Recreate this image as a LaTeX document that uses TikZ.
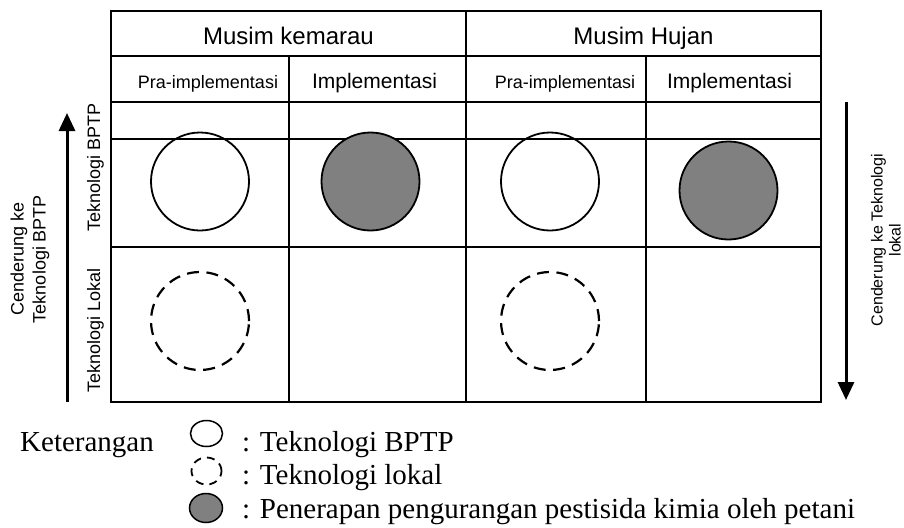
\documentclass[tikz,border=0pt]{standalone}
\usepackage{fontspec}
\setmainfont{Liberation Serif}
\setsansfont{Liberation Sans}
\usetikzlibrary{arrows.meta,shapes.geometric}

\begin{document}
\begin{tikzpicture}[x=1pt,y=-1pt,
  grid/.style={line width=2pt},
  head/.style={font=\sffamily\fontsize{24}{28}\selectfont, anchor=base},
  sub/.style={font=\sffamily\fontsize{18}{21}\selectfont, anchor=base},
  imp/.style={font=\sffamily\fontsize{21}{24}\selectfont, anchor=base},
  side/.style={font=\sffamily\fontsize{18}{22}\selectfont, rotate=90, anchor=base},
  bptp/.style={circle, draw, line width=1.8pt, minimum size=98pt, inner sep=0pt},
  lokal/.style={bptp, line width=2.2pt, dash pattern=on 12pt off 7.5pt},
  kimia/.style={bptp, fill=gray},
  key/.style={ellipse, draw, line width=1.5pt, inner sep=0pt},
  legend/.style={font=\fontsize{29}{33}\selectfont, anchor=base west, inner sep=0pt},
  trend/.style={line width=3pt, -{Triangle[width=16pt,length=18pt]}}
]
\useasboundingbox (0,0) rectangle (904,527);

\draw[grid] (111,11) rectangle (821,402);
\foreach \y in {56,102,139,247}
  \draw[grid] (111,\y) -- (821,\y);
\draw[grid] (466,11) -- (466,402) (289,56) -- (289,402) (646,56) -- (646,402);

\node[head] (kemarau) at (288.5,45) {Musim kemarau};
\node[head] (hujan) at (643.5,45) {Musim Hujan};
\node[sub] (pra-k) at (208,88) {Pra-implementasi};
\node[imp] (imp-k) at (374.5,88) {Implementasi};
\node[sub] (pra-h) at (565,88) {Pra-implementasi};
\node[imp] (imp-h) at (729.5,88) {Implementasi};

\node[side] (row-bptp) at (100,167.5) {Teknologi BPTP};
\node[side] (row-lokal) at (100,330.5) {Teknologi Lokal};

\node[bptp] (bptp-k) at (200,181.5) {};
\node[kimia] (kimia-k) at (370.5,181.5) {};
\node[bptp] (bptp-h) at (550,181.5) {};
\node[kimia] (kimia-h) at (728.5,190.5) {};
\node[lokal] (lokal-k) at (200,321) {};
\node[lokal] (lokal-h) at (550,321) {};

\coordinate (up-s) at (67,402);
\coordinate (up-e) at (67,113);
\coordinate (down-s) at (846,102);
\coordinate (down-e) at (846,400);
\draw[trend] (up-s) -- (up-e);
\draw[trend] (down-s) -- (down-e);
\node[font=\sffamily\fontsize{18}{22}\selectfont, rotate=90, align=center, inner sep=0pt]
  (ke-bptp) at (30,259) {Cenderung ke\\Teknologi BPTP};
\node[font=\sffamily\fontsize{16}{18}\selectfont, rotate=90, align=center, inner sep=0pt]
  (ke-lokal) at (886,240) {Cenderung ke Teknologi\\lokal};

\node[legend] (ket) at (20,451) {Keterangan};
\node[key, minimum width=32pt, minimum height=26pt] (key-bptp) at (206.5,433.5) {};
\node[key, minimum width=30pt, minimum height=27pt, line width=1.8pt, dash pattern=on 8pt off 6pt] (key-lokal) at (206.5,471) {};
\node[key, minimum width=33pt, minimum height=29pt, fill=gray] (key-kimia) at (206,508) {};
\node[legend] (txt-bptp) at (242,451) {: Teknologi BPTP};
\node[legend] (txt-lokal) at (242,484) {: Teknologi lokal};
\node[legend] (txt-kimia) at (242,518) {: Penerapan pengurangan pestisida kimia oleh petani};
\end{tikzpicture}
\end{document}
